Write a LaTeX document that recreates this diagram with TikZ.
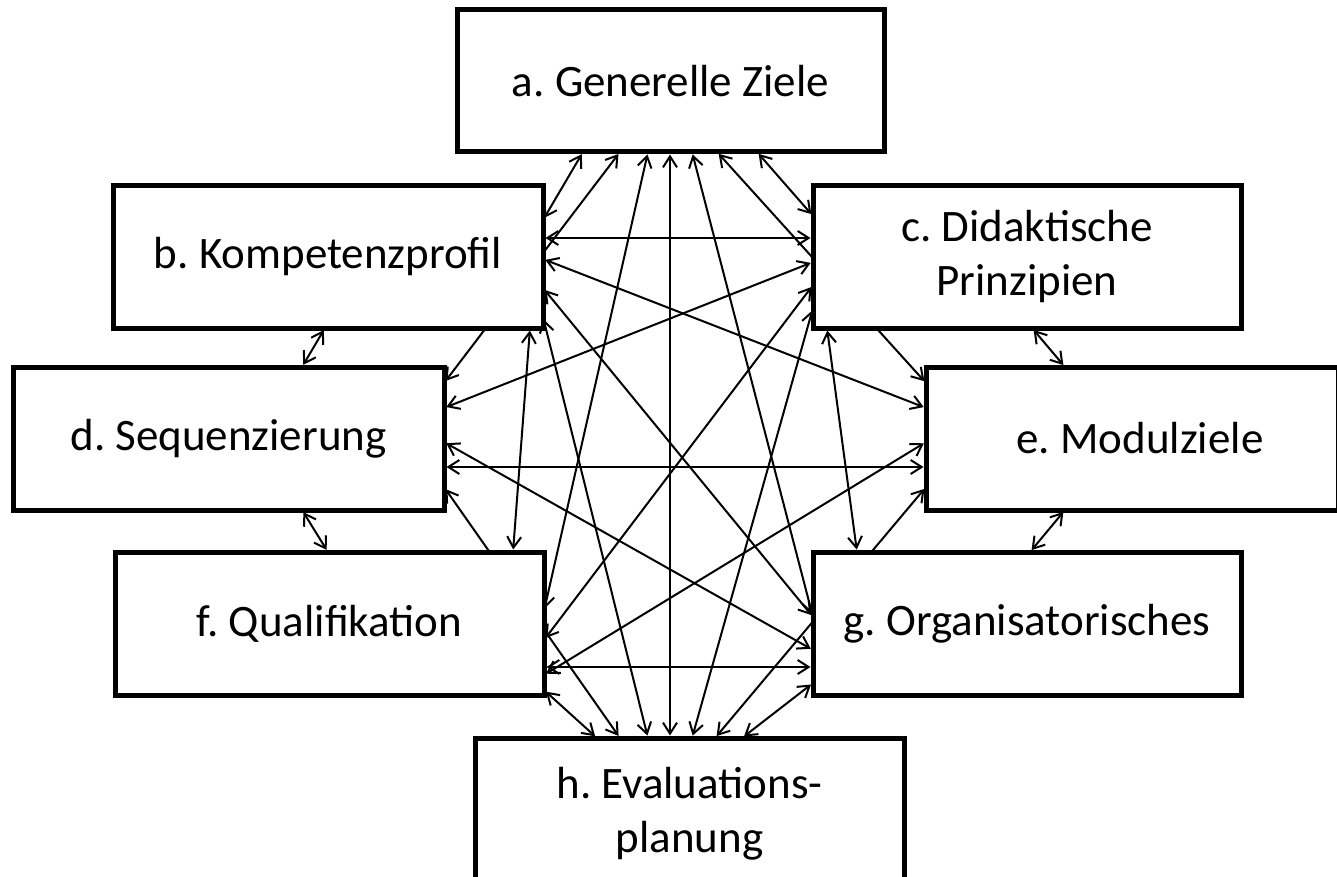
\documentclass[tikz,border=0pt]{standalone}
\usepackage{fontspec}
\setmainfont{Carlito}
\frenchspacing
\usetikzlibrary{arrows.meta,calc}
\pgfdeclarelayer{bg}
\pgfdeclarelayer{paper}
\pgfsetlayers{paper,bg,main}
\begin{document}
\begin{tikzpicture}[x=1pt,y=-1pt,
  box/.style={draw=black,line width=5pt,fill=white,rectangle,outer sep=0pt,inner sep=0pt,
    minimum width=#1,minimum height=142pt,align=center,font=\fontsize{45}{54}\selectfont},
  conn/.style={line width=2pt,
    {Straight Barb[length=11pt,width=14pt]}-{Straight Barb[length=11pt,width=14pt]},
    shorten <=2.5pt,shorten >=2.5pt}]
\useasboundingbox (0,0) rectangle (1337,877);
\begin{pgfonlayer}{paper}
\fill[white] (0,0) rectangle (1337,877);
\end{pgfonlayer}
% boxes
\node[box=427pt] (a) at (670.5,81) {a. Generelle Ziele};
\node[box=430pt] (b) at (328,257) {b. Kompetenzprofil};
\node[box=428pt] (c) at (1027,257) {c. Didaktische\\Prinzipien};
\node[box=431pt,minimum height=143pt] (d) at (228.5,438.5) {d. Sequenzierung};
\node[box=412pt,minimum height=143pt] (e) at (1132,438.5) {\hspace*{16pt}e. Modulziele};
\node[box=429pt,minimum height=143pt] (f) at (329.5,623.5) {f. Qualifikation};
\node[box=428pt,minimum height=143pt] (g) at (1027,623.5) {g. Organisatorisches};
\node[box=429pt,minimum height=152pt] (h) at (689.5,814) {h. Evaluations-\\planung};
% connectors
\begin{pgfonlayer}{bg}
\draw[conn] ($(a.south west)+(126,0)$) -- ($(b.north east)+(0,34)$);
\draw[conn] ($(a.south west)+(300,0)$) -- ($(c.north west)+(0,30)$);
\draw[conn] ($(a.south west)+(163,0)$) -- ($(d.north east)+(0,16)$);
\draw[conn] ($(a.south west)+(260,0)$) -- ($(e.north west)+(0,16)$);
\draw[conn] ($(a.south west)+(191,0)$) -- ($(f.north east)+(0,59)$);
\draw[conn] ($(a.south west)+(235,0)$) -- ($(g.north west)+(0,65)$);
\draw[conn] ($(a.south west)+(213,0)$) -- ($(h.north west)+(195,0)$);
\draw[conn] ($(b.north east)+(0,52)$) -- ($(c.north west)+(0,52)$);
\draw[conn] ($(b.south west)+(212,0)$) -- ($(d.north west)+(289,0)$);
\draw[conn] ($(b.north east)+(0,73)$) -- ($(e.north west)+(0,41)$);
\draw[conn] ($(b.south west)+(417,0)$) -- ($(f.north west)+(398,0)$);
\draw[conn] ($(b.north east)+(0,102)$) -- ($(g.north west)+(0,65)$);
\draw[conn] ($(b.north east)+(0,131)$) -- ($(h.north west)+(173,0)$);
\draw[conn] ($(c.north west)+(0,76)$) -- ($(d.north east)+(0,41)$);
\draw[conn] ($(c.south west)+(219,0)$) -- ($(e.north west)+(139,0)$);
\draw[conn] ($(c.north west)+(0,99)$) -- ($(f.north east)+(0,88)$);
\draw[conn] ($(c.south west)+(14,0)$) -- ($(g.north west)+(44,0)$);
\draw[conn] ($(c.north west)+(0,122)$) -- ($(h.north west)+(217,0)$);
\draw[conn] ($(d.north east)+(0,100)$) -- ($(e.north west)+(0,100)$);
\draw[conn] ($(d.south west)+(289,0)$) -- ($(f.north west)+(213,0)$);
\draw[conn] ($(d.north east)+(0,75)$) -- ($(g.north west)+(0,98)$);
\draw[conn] ($(d.north east)+(0,120)$) -- ($(h.north west)+(145,0)$);
\draw[conn] ($(e.north west)+(0,75)$) -- ($(f.north east)+(0,123)$);
\draw[conn] ($(e.south west)+(139,0)$) -- ($(g.north west)+(217,0)$);
\draw[conn] ($(e.north west)+(0,120)$) -- ($(h.north west)+(240,0)$);
\draw[conn] ($(f.north east)+(0,115)$) -- ($(g.north west)+(0,115)$);
\draw[conn] ($(f.north east)+(0,138)$) -- ($(h.north west)+(122,0)$);
\draw[conn] ($(g.north west)+(0,131)$) -- ($(h.north west)+(267,0)$);
\end{pgfonlayer}
\end{tikzpicture}
\end{document}
